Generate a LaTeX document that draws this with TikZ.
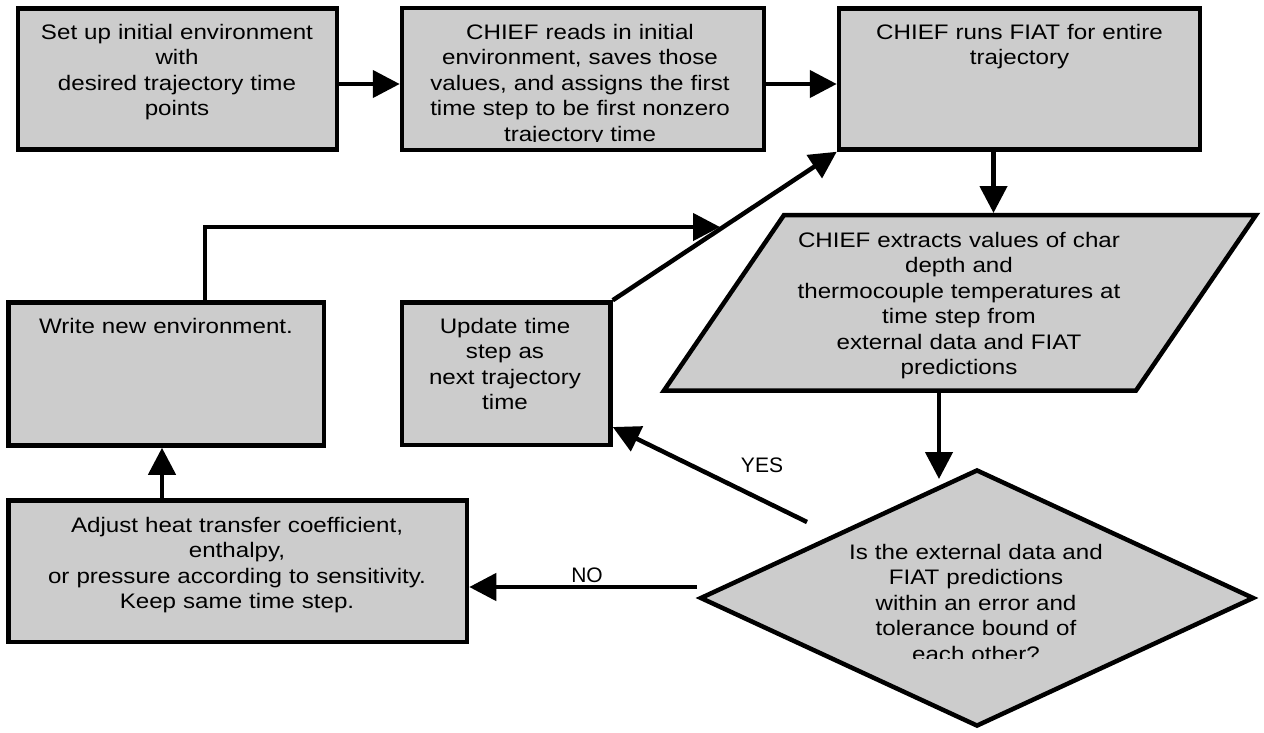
\documentclass[tikz,border=0pt]{standalone}
\usepackage{fontspec}
\setmainfont{Liberation Sans}[FakeStretch=1.15]
\newfontfamily\lblfont{Liberation Sans}
\usetikzlibrary{positioning,arrows.meta,shapes.geometric,calc}
\definecolor{boxfill}{RGB}{204,204,204}
\tikzset{
  proc/.style={rectangle,draw=black,line width=4.5pt,fill=boxfill,inner sep=0pt},
  decision/.style={diamond,draw=black,line width=4.5pt,fill=boxfill,inner sep=0pt},
  txt/.style={anchor=base,inner sep=0pt,align=center,text width=#1,
              font=\fontsize{21}{25.5}\selectfont},
  txt/.default=300pt,
  flow/.style={-{Triangle[length=27pt,width=27pt]},line width=4.5pt},
  lbl/.style={inner sep=0pt,font=\lblfont\fontsize{21}{25}\selectfont},
}

\begin{document}
\begin{tikzpicture}[x=1pt,y=-1pt]
\useasboundingbox (0,0) rectangle (1264,732);

% top row
\node[proc, minimum width=319pt, minimum height=141pt] (setup) at (177.5,79) {};
\node[proc, minimum width=362pt, minimum height=142pt] (readin) at (583,79) {};
\node[proc, minimum width=361pt, minimum height=141pt] (runfiat) at (1019.5,79) {};
\node[txt] (setup-txt) at (177,39)
  {Set up initial environment\\with\\desired trajectory time\\points};
\begin{scope}
  \clip (402,8) rectangle (764,141);
  \node[txt=340pt] (readin-txt) at (580,39)
    {CHIEF reads in initial\\environment, saves those\\values, and assigns the first\\time step to be first nonzero\\trajectory time};
\end{scope}
\node[txt=340pt] (runfiat-txt) at (1019.5,39) {CHIEF runs FIAT for entire\\trajectory};

% extraction step
\coordinate (ext-nw) at (784,215);
\coordinate (ext-ne) at (1256,215);
\coordinate (ext-se) at (1136,390.5);
\coordinate (ext-sw) at (664,390.5);
\draw[line width=4.5pt, fill=boxfill] (ext-nw) -- (ext-ne) -- (ext-se) -- (ext-sw) -- cycle;
\node[txt=400pt] (extract) at (959,247)
  {CHIEF extracts values of char\\depth and\\thermocouple temperatures at\\time step from\\external data and FIAT\\predictions};

% decision
\node[decision, minimum width=554pt, minimum height=257pt] (check) at (977,598) {};
\begin{scope}
  \clip (700,469) rectangle (1254,658);
  \node[txt] (check-txt) at (976,559)
    {Is the external data and\\FIAT predictions\\within an error and\\tolerance bound of\\each other?};
\end{scope}

% lower left
\node[proc, minimum width=208.5pt, minimum height=142.5pt] (update) at (506.25,373.75) {};
\node[proc, minimum width=315.5pt, minimum height=143pt] (writeenv) at (166.25,374) {};
\node[proc, minimum width=458.5pt, minimum height=141.5pt] (adjust) at (237.75,571.25) {};
\node[txt=200pt] (update-txt) at (505,333) {Update time\\step as\\next trajectory\\time};
\node[txt] (writeenv-txt) at (166,333) {Write new environment.};
\node[txt=440pt] (adjust-txt) at (237,532)
  {Adjust heat transfer coefficient,\\enthalpy,\\or pressure according to sensitivity.\\Keep same time step.};

% connectors
\coordinate (ext-in) at (993.5,213);
\coordinate (ext-out) at (939,392.5);
\coordinate (check-in) at (939,479);
\coordinate (no-start) at (697,587);
\coordinate (yes-start) at (807,522);
\coordinate (merge) at (720,227);

\draw[flow] ([yshift=-5pt]setup.east) -- ([yshift=-5pt]readin.west);
\draw[flow] ([yshift=-5pt]readin.east) -- ([yshift=-5pt]runfiat.west);
\draw[flow] (runfiat.south -| ext-in) -- (ext-in);
\draw[flow] (ext-out) -- (check-in);
\draw[flow] (no-start) -- (adjust.east |- no-start);
\draw[flow] (yes-start) -- ([yshift=-53.25pt]update.east);
\draw[flow] (update.north east) -- (runfiat.south west);
\draw[flow] ([xshift=38.75pt]writeenv.north) |- (merge);
\draw[flow] ([xshift=-4.25pt]writeenv.south |- adjust.north) -- ([xshift=-4.25pt]writeenv.south);

\node[lbl] (no) at (587,575) {NO};
\node[lbl] (yes) at (762,465) {YES};
\end{tikzpicture}
\end{document}
